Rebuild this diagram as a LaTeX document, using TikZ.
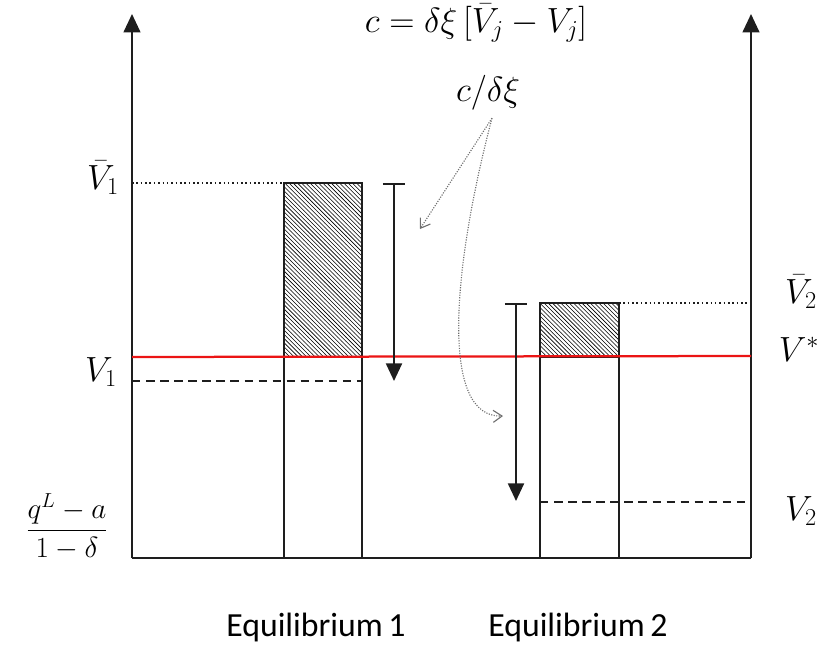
\documentclass[tikz,border=0pt]{standalone}
\usepackage{fontspec}
\newfontfamily\eqfont{Carlito}
\usetikzlibrary{arrows.meta,positioning,patterns}
\definecolor{ink}{RGB}{30,30,30}
\definecolor{cutoff}{RGB}{235,20,20}
\definecolor{note}{RGB}{110,110,110}
\tikzset{
  >={Triangle[length=4.6mm,width=4.2mm]},
  axis/.style={->,ink,line width=1.4pt},
  bar/.style={draw=ink,line width=1.5pt},
  gap/.style={draw=ink,line width=2pt,pattern=north west lines},
  drop/.style={{Bar[width=5.6mm]}->,ink,line width=1.4pt,
    >={Triangle[length=4.4mm,width=4mm]}},
  level/.style={ink,line width=1.1pt,dash pattern=on 6pt off 4pt},
  upper/.style={ink,line width=1.1pt,dotted},
  hint/.style={->,note,line width=0.8pt,densely dotted,>={Straight Barb[length=2.2mm,width=3mm]}},
  lbl/.style={font=\fontsize{23}{27}\selectfont,inner sep=1pt},
  eq/.style={font=\eqfont\fontsize{24}{28}\selectfont,inner sep=1pt},
}
\begin{document}
\begin{tikzpicture}[x=0.025cm,y=-0.025cm]
  \useasboundingbox (0,0) rectangle (820,645);
  % frame
  \coordinate (o1) at (132,558);
  \coordinate (o2) at (751,558);
  \coordinate (t1) at (132,14);
  \coordinate (t2) at (751,14);
  \draw[axis] (o1) -- (t1);
  \draw[axis] (o2) -- (t2);
  \draw[ink,line width=1.5pt] (o1) -- (o2);
  % equilibrium 1
  \draw[bar] (284,357) rectangle (362,558);
  \draw[gap] (284,183) rectangle (362,357);
  % equilibrium 2
  \draw[bar] (540,357) rectangle (619,558);
  \draw[gap] (540,303) rectangle (619,357);
  % levels
  \coordinate (vb1) at (132,183);
  \coordinate (vb2) at (751,303);
  \coordinate (v1a) at (132,381);
  \coordinate (v1b) at (362,381);
  \coordinate (v2a) at (540,502);
  \coordinate (v2b) at (751,502);
  \draw[upper] (vb1) -- (284,183);
  \draw[upper] (619,303) -- (vb2);
  \draw[level] (v1a) -- (v1b);
  \draw[level] (v2a) -- (v2b);
  \coordinate (s1) at (132,357);
  \coordinate (s2) at (751,356);
  \draw[cutoff,line width=1.6pt] (s1) -- (s2);
  % costs
  \coordinate (d1a) at (394,183);
  \coordinate (d1b) at (394,381);
  \coordinate (d2a) at (516,303);
  \coordinate (d2b) at (516,501);
  \draw[drop] (d1a) -- (d1b);
  \draw[drop] (d2a) -- (d2b);
  % labels
  \node[lbl] (lvb1) at (103,178) {$\bar{V}_1$};
  \node[lbl] (lv1) at (101,372) {$V_1$};
  \node[lbl,font=\fontsize{21}{25}\selectfont] (lq) at (67,527) {$\displaystyle\frac{q^L-a}{1-\delta}$};
  \node[lbl] (lvb2) at (801,292) {$\bar{V}_2$};
  \node[lbl] (lvs) at (799,349) {$V^*$};
  \node[lbl] (lv2) at (801,511) {$V_2$};
  \node[lbl] (cost) at (476,23) {$c=\delta\xi\,[\bar{V}_j-V_j]$};
  \node[lbl] (ratio) at (488,93) {$c/\delta\xi$};
  \node[eq] (e1) at (316,627) {Equilibrium\,1};
  \node[eq] (e2) at (578,627) {Equilibrium\,2};
  % pointers
  \coordinate (h0) at ([shift={(4,6)}]ratio.south);
  \coordinate (h1) at (420,229);
  \coordinate (h2) at (503,416);
  \draw[hint] (h0) -- (h1);
  \draw[hint] (h0) .. controls (452,270) and (440,418) .. (h2);
\end{tikzpicture}
\end{document}
